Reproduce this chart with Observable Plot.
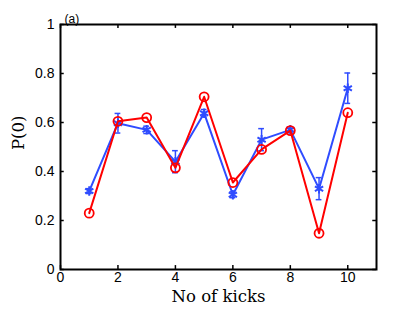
<!DOCTYPE html>
<html><head><meta charset="utf-8">
<script src="https://cdn.jsdelivr.net/npm/d3@7"></script>
<script src="https://cdn.jsdelivr.net/npm/@observablehq/plot@0.6"></script>
<style>body{margin:0;background:#fff}</style>
</head><body><div id="chart"></div>
<script>
const kicks = [1, 2, 3, 4, 5, 6, 7, 8, 9, 10];
const pRed = [0.23, 0.605, 0.62, 0.415, 0.705, 0.355, 0.49, 0.567, 0.148, 0.64];
const pBlue = [0.32, 0.597, 0.57, 0.44, 0.638, 0.305, 0.53, 0.57, 0.33, 0.74];
const errBlue = [0.01, 0.04, 0.015, 0.045, 0.015, 0.012, 0.045, 0.012, 0.045, 0.062];
const xTicks = [0, 2, 4, 6, 8, 10];
const yTicks = [0, 0.2, 0.4, 0.6, 0.8, 1];

const red = kicks.map((k, i) => ({k, p: pRed[i]}));
const blue = kicks.map((k, i) => ({k, p: pBlue[i], lo: pBlue[i] - errBlue[i], hi: pBlue[i] + errBlue[i]}));
const RED = "#ff0000", BLUE = "#2f4cff";
const serif = "'DejaVu Serif', 'Liberation Serif', serif";
const sans = "'Liberation Sans', Arial, sans-serif";

const chart = Plot.plot({
  width: 415, height: 311,
  marginLeft: 60, marginRight: 39, marginTop: 24, marginBottom: 42,
  style: {fontFamily: sans, fontSize: "14px", background: "#fff"},
  x: {domain: [0, 11]},
  y: {domain: [0, 1]},
  marks: [
    Plot.axisX(xTicks, {tickSize: 0, tickPadding: 3, label: null, tickFormat: d => String(d), fontSize: 14, fontFamily: sans, fill: "#000"}),
    Plot.axisY(yTicks, {tickSize: 0, tickPadding: 6, label: null, tickFormat: d => String(d), fontSize: 14, fontFamily: sans, fill: "#000"}),
    Plot.ruleX(xTicks, {x: d => d, y1: 0, y2: 0.016, stroke: "#000", strokeWidth: 1.5}),
    Plot.ruleX(xTicks, {x: d => d, y1: 1, y2: 0.984, stroke: "#000", strokeWidth: 1.5}),
    Plot.ruleY(yTicks, {y: d => d, x1: 0, x2: 0.13, stroke: "#000", strokeWidth: 1.5}),
    Plot.ruleY(yTicks, {y: d => d, x1: 11, x2: 10.87, stroke: "#000", strokeWidth: 1.5}),
    // blue series with error bars
    Plot.ruleX(blue, {x: "k", y1: "lo", y2: "hi", stroke: BLUE, strokeWidth: 1.5}),
    Plot.ruleY(blue, {y: "lo", x1: d => d.k - 0.1, x2: d => d.k + 0.1, stroke: BLUE, strokeWidth: 1.5}),
    Plot.ruleY(blue, {y: "hi", x1: d => d.k - 0.1, x2: d => d.k + 0.1, stroke: BLUE, strokeWidth: 1.5}),
    Plot.line(blue, {x: "k", y: "p", stroke: BLUE, strokeWidth: 2}),
    Plot.dot(blue, {x: "k", y: "p", symbol: "asterisk", r: 4.5, stroke: BLUE, strokeWidth: 2}),
    // red series
    Plot.line(red, {x: "k", y: "p", stroke: RED, strokeWidth: 2}),
    Plot.dot(red, {x: "k", y: "p", symbol: "circle", r: 4.5, stroke: RED, fill: "none", strokeWidth: 1.8}),
    Plot.frame({stroke: "#000", strokeWidth: 2}),
    Plot.text(["No of kicks"], {frameAnchor: "bottom", dy: 32, fontFamily: serif, fontSize: 16.5, fill: "#000"}),
    Plot.text(["P(0)"], {frameAnchor: "left", dx: -42, dy: 3, rotate: -90, fontFamily: serif, fontSize: 16.5, fill: "#000"}),
    Plot.text(["(a)"], {frameAnchor: "top-left", dx: 4, dy: -10, textAnchor: "start", fontFamily: sans, fontSize: 12, fill: "#000"})
  ]
});
document.getElementById("chart").appendChild(chart);
</script>
</body></html>
